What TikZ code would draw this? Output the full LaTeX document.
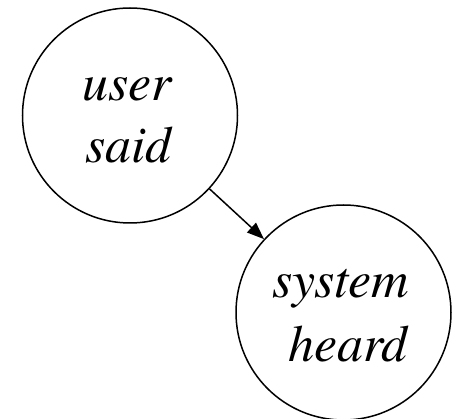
\documentclass[tikz,border=0pt]{standalone}
\usepackage{fontspec}
\setmainfont{TeX Gyre Termes}
\usetikzlibrary{arrows.meta}
\begin{document}
\begin{tikzpicture}[x=1pt,y=-1pt,
  state/.style={draw=black,line width=1.5pt,circle,minimum size=215pt,inner sep=0pt},
  word/.style={anchor=base,inner sep=0pt,font=\fontsize{52}{60}\selectfont\itshape},
  link/.style={line width=1.5pt,-{Triangle[length=17pt,width=13pt]}}]
  \useasboundingbox (0,0) rectangle (456,419);
  % the two states
  \node[state] (said)  at (130,115.5) {};
  \node[state] (heard) at (343.5,312.5) {};
  % their labels, one node per line
  \node[word] (l1) at (127,101) {user};
  \node[word] (l2) at (128.5,163) {said};
  \node[word] (l3) at (340.5,298) {system};
  \node[word] (l4) at (348,362) {heard};
  % transition
  \draw[link] (said) -- (heard);
\end{tikzpicture}
\end{document}
